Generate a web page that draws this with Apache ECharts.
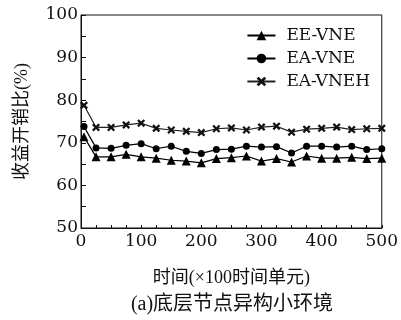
<!DOCTYPE html>
<html>
<head>
<meta charset="utf-8">
<script src="https://cdn.jsdelivr.net/npm/echarts@6/dist/echarts.min.js"></script>
<style>html,body{margin:0;padding:0;background:#fff}#c{width:401px;height:320px}</style>
</head>
<body>
<div id="c"></div>
<script>
var xValues = [5, 25, 50, 75, 100, 125, 150, 175, 200, 225, 250, 275, 300, 325, 350, 375, 400, 425, 450, 475, 500];
var eeVne   = [71.4, 66.7, 66.7, 67.3, 66.7, 66.4, 65.9, 65.7, 65.3, 66.3, 66.5, 66.9, 65.7, 66.3, 65.5, 66.9, 66.4, 66.4, 66.6, 66.3, 66.4];
var eaVne   = [73.8, 68.8, 68.7, 69.4, 69.8, 68.6, 69.2, 68.0, 67.5, 68.4, 68.5, 69.2, 69.0, 69.1, 67.6, 69.2, 69.2, 69.0, 69.2, 68.4, 68.6];
var eaVneh  = [78.8, 73.6, 73.6, 74.2, 74.6, 73.4, 73.0, 72.7, 72.4, 73.3, 73.5, 73.0, 73.7, 73.9, 72.5, 73.2, 73.4, 73.7, 73.1, 73.3, 73.4];
var seriesNames = ['EE-VNE', 'EA-VNE', 'EA-VNEH'];
var xTitle = '时间(×100时间单元)';
var yTitle = '收益开销比(%)';
var caption = '(a)底层节点异构小环境';

var serif = 'DejaVu Serif, Liberation Serif, serif';
var mixed = 'Liberation Serif, Noto Sans CJK SC, serif';
var ink = '#111';
var crossPath = 'path://M2,0 L5,3 L8,0 L10,2 L7,5 L10,8 L8,10 L5,7 L2,10 L0,8 L3,5 L0,2 Z';

function pairs(vals) { return xValues.map(function (x, i) { return [x, vals[i]]; }); }

var chart = echarts.init(document.getElementById('c'), null, {renderer: 'canvas'});
chart.setOption({
  animation: false,
  backgroundColor: '#fff',
  grid: {left: 81, right: 19, top: 15, bottom: 92, show: true, borderColor: ink, borderWidth: 1, backgroundColor: 'transparent'},
  legend: {
    right: 26, top: 22, orient: 'vertical', itemWidth: 28, itemHeight: 12, itemGap: 6,
    textStyle: {fontFamily: serif, fontSize: 17, lineHeight: 14, color: ink, padding: [0, 0, 0, 6]},
    data: seriesNames
  },
  xAxis: {
    type: 'value', min: 0, max: 500, interval: 100,
    name: xTitle, nameLocation: 'middle', nameGap: 41,
    nameTextStyle: {fontFamily: mixed, fontSize: 18, color: ink},
    axisLine: {lineStyle: {color: ink, width: 1}},
    axisTick: {inside: true, length: 3, lineStyle: {color: ink}},
    minorTick: {show: true, splitNumber: 4, length: 3, lineStyle: {color: ink}},
    axisLabel: {fontFamily: serif, fontSize: 17, color: ink, margin: 5},
    splitLine: {show: false}
  },
  yAxis: {
    type: 'value', min: 50, max: 100, interval: 10,
    name: yTitle, nameLocation: 'middle', nameGap: 50, nameRotate: 90,
    nameTextStyle: {fontFamily: mixed, fontSize: 18, color: ink},
    axisLine: {lineStyle: {color: ink, width: 1}},
    axisTick: {inside: true, length: 5, lineStyle: {color: ink}},
    minorTick: {show: true, splitNumber: 2, length: 5, lineStyle: {color: ink}},
    axisLabel: {fontFamily: serif, fontSize: 17, color: ink, margin: 3},
    splitLine: {show: false}
  },
  series: [
    {name: seriesNames[0], type: 'line', data: pairs(eeVne), symbol: 'triangle', symbolSize: 9,
     lineStyle: {color: '#000', width: 1.2}, itemStyle: {color: '#000'}},
    {name: seriesNames[1], type: 'line', data: pairs(eaVne), symbol: 'circle', symbolSize: 7,
     lineStyle: {color: '#000', width: 1.2}, itemStyle: {color: '#000'}},
    {name: seriesNames[2], type: 'line', data: pairs(eaVneh), symbol: crossPath, symbolSize: 8,
     lineStyle: {color: '#222', width: 1.2}, itemStyle: {color: '#111'}}
  ],
  graphic: [
    {type: 'text', x: 232, y: 305, style: {text: caption, font: '20px ' + mixed, fill: ink, align: 'center', verticalAlign: 'middle'}}
  ]
});
</script>
</body>
</html>
